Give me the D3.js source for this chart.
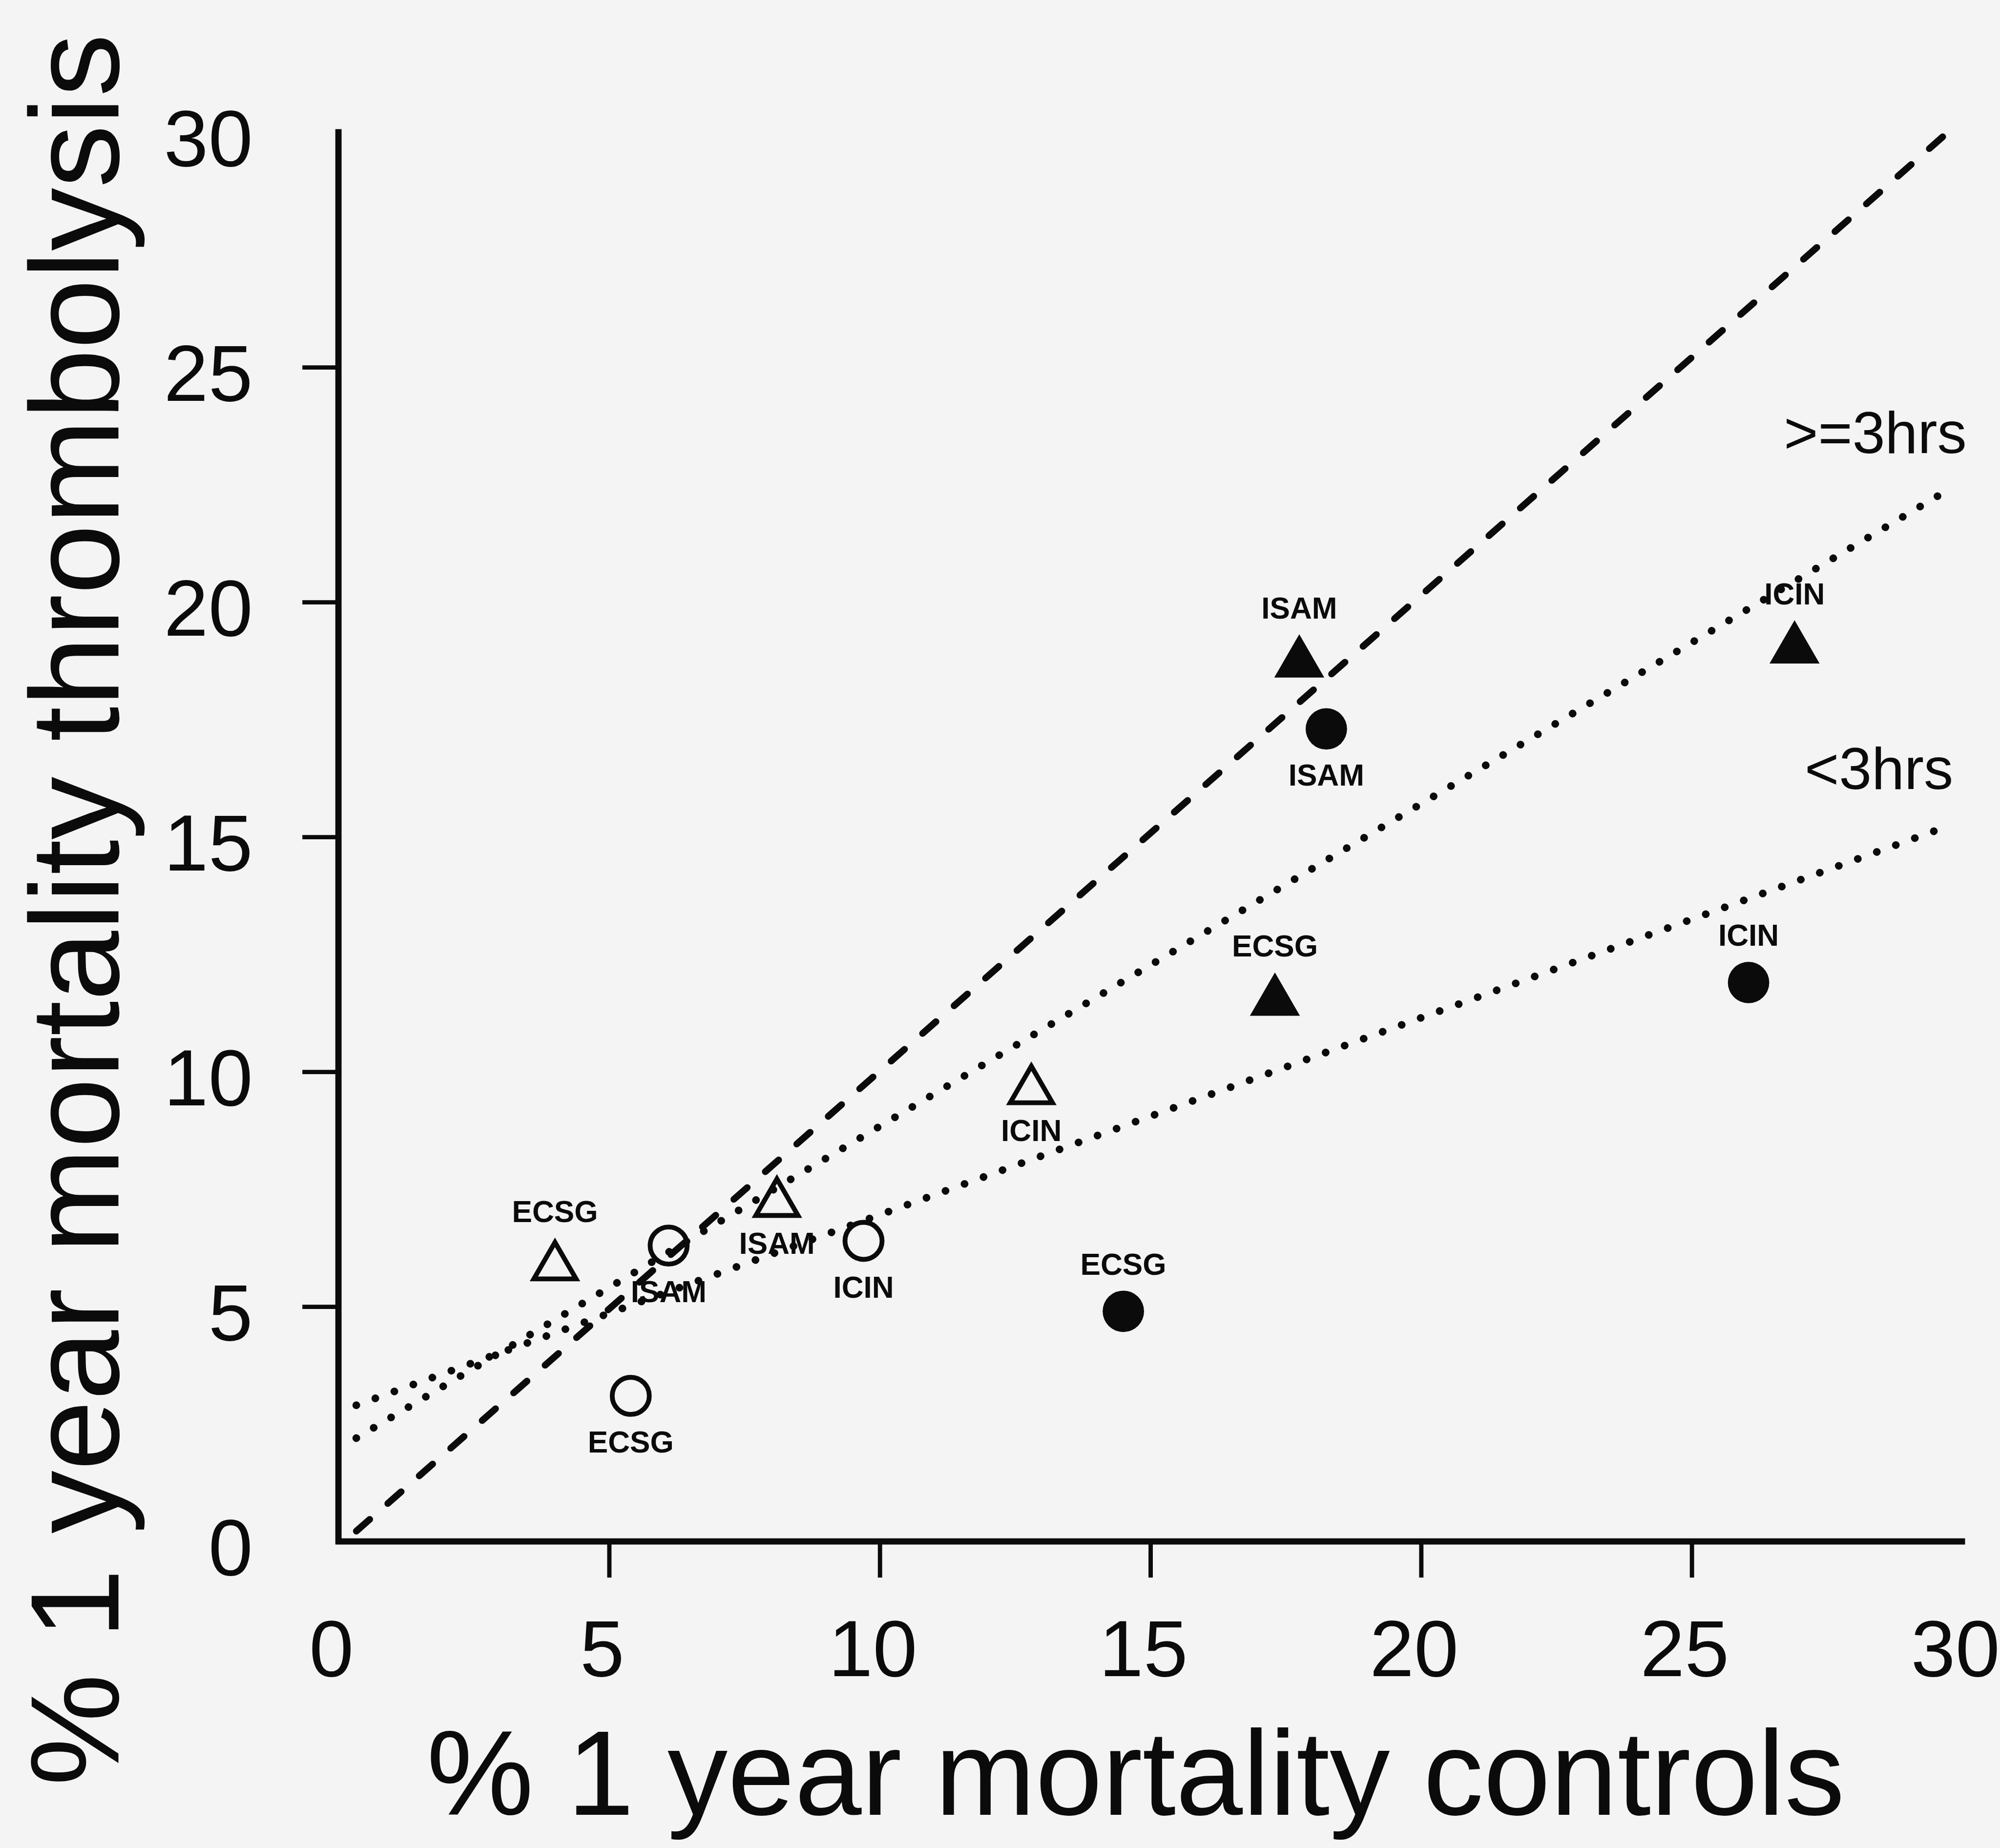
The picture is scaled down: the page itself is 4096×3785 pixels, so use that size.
<!DOCTYPE html>
<html>
<head>
<meta charset="utf-8">
<script src="https://cdn.jsdelivr.net/npm/d3@7"></script>
<style>
html, body { margin: 0; padding: 0; background: #f4f4f4; }
svg { display: block; }
</style>
</head>
<body>
<script>
// ---------------- DATA ----------------
const studies = ["ECSG", "ISAM", "ICIN"];

// open triangles
const openTriControls = [4.0, 8.1, 12.8];
const openTriThromb   = [5.85, 7.2, 9.6];
const openTriLabelSide = ["above", "below", "below"];

// open circles
const openCircControls = [5.4, 6.1, 9.7];
const openCircThromb   = [3.1, 6.3, 6.4];
const openCircLabelSide = ["below", "below", "below"];

// filled triangles
const filledTriControls = [17.3, 17.75, 26.9];
const filledTriThromb   = [11.5, 18.7, 19.0];
const filledTriLabelSide = ["above", "above", "above"];

// filled circles
const filledCircControls = [14.5, 18.25, 26.05];
const filledCircThromb   = [4.9, 17.3, 11.9];
const filledCircLabelSide = ["above", "below", "above"];

// reference (dashed) line and the two dotted lines
const refLineX = [0.33, 29.73];
const refLineY = [0.22, 30.0];
const lateLineX = [0.33, 29.68];   // ">=3hrs"
const lateLineY = [2.2, 22.35];
const earlyLineX = [0.33, 29.66];  // "<3hrs"
const earlyLineY = [2.9, 15.2];
const lineLabels = [">=3hrs", "<3hrs"];

// axes
const xTickValues = [0, 5, 10, 15, 20, 25, 30];
const yTickValues = [0, 5, 10, 15, 20, 25, 30];
const tickMarkValues = [5, 10, 15, 20, 25];
const xTitle = "% 1 year mortality controls";
const yTitle = "% 1 year mortality thrombolysis";

// ---------------- DRAW ----------------
const W = 4096, H = 3785, S = 0.986;
const FONT = "'Liberation Sans', Arial, Helvetica, sans-serif";
const INK = "#0b0b0b";

const svg = d3.select("body").append("svg").attr("width", W).attr("height", H);
svg.append("rect").attr("width", W).attr("height", H).attr("fill", "#f4f4f4");
const g = svg.append("g").attr("transform", `scale(${S})`);

const x = d3.scaleLinear().domain([0, 30]).range([703, 4076]);
const y = d3.scaleLinear().domain([0, 30]).range([3202, 275]);

// X axis ticks + labels
const gx = g.append("g")
  .attr("transform", `translate(0,${y(0)})`)
  .call(d3.axisBottom(x).tickValues(xTickValues).tickSize(75).tickPadding(87).tickFormat(d3.format("d")));
gx.select(".domain").remove();
gx.selectAll(".tick line")
  .attr("stroke", INK).attr("stroke-width", 9)
  .attr("display", d => tickMarkValues.includes(d) ? null : "none");
gx.selectAll(".tick text")
  .attr("fill", INK).attr("font-size", 166).attr("font-family", FONT).attr("dx", -15);

// Y axis ticks + labels
const gy = g.append("g")
  .attr("transform", `translate(${x(0)},0)`)
  .call(d3.axisLeft(y).tickValues(yTickValues).tickSize(75).tickPadding(103).tickFormat(d3.format("d")));
gy.select(".domain").remove();
gy.selectAll(".tick line")
  .attr("stroke", INK).attr("stroke-width", 9)
  .attr("display", d => tickMarkValues.includes(d) ? null : "none");
gy.selectAll(".tick text")
  .attr("fill", INK).attr("font-size", 166).attr("font-family", FONT).attr("dy", "0.42em");

// Axis lines
g.append("line")
  .attr("x1", x(0)).attr("x2", x(0))
  .attr("y1", y(0) + 6).attr("y2", y(30.07))
  .attr("stroke", INK).attr("stroke-width", 13);
g.append("line")
  .attr("x1", x(0) - 6).attr("x2", x(30.05))
  .attr("y1", y(0)).attr("y2", y(0))
  .attr("stroke", INK).attr("stroke-width", 13);

// Lines
const lineGen = d3.line().x(d => x(d[0])).y(d => y(d[1]));
g.append("path")
  .datum(d3.zip(refLineX, refLineY))
  .attr("d", lineGen)
  .attr("fill", "none").attr("stroke", INK).attr("stroke-width", 14)
  .attr("stroke-linecap", "round").attr("stroke-dasharray", "37 50");

const dotted = [d3.zip(lateLineX, lateLineY), d3.zip(earlyLineX, earlyLineY)];
const labelShift = [-145, -135];
dotted.forEach((pts, i) => {
  g.append("path")
    .datum(pts)
    .attr("d", lineGen)
    .attr("fill", "none").attr("stroke", INK).attr("stroke-width", 16)
    .attr("stroke-linecap", "round").attr("stroke-dasharray", "0.01 42");
  const end = pts[pts.length - 1];
  g.append("text")
    .attr("x", x(end[0]) + labelShift[i])
    .attr("y", y(end[1]) - 80)
    .attr("text-anchor", "middle")
    .attr("font-family", FONT).attr("font-size", 122)
    .attr("fill", INK)
    .text(lineLabels[i]);
});

// Markers
const TRI_FILLED = 3 * Math.sqrt(3) * 30 * 30;    // height 90
const TRI_OPEN = 3 * Math.sqrt(3) * 25.3 * 25.3;   // centerline
const CIRC_FILLED = Math.PI * 43 * 43;
const CIRC_OPEN = Math.PI * 38.5 * 38.5;

const series = [
  { type: d3.symbolTriangle, size: TRI_OPEN, filled: false, top: -60, bottom: 30,
    xs: openTriControls, ys: openTriThromb, sides: openTriLabelSide },
  { type: d3.symbolCircle, size: CIRC_OPEN, filled: false, top: -43, bottom: 43,
    xs: openCircControls, ys: openCircThromb, sides: openCircLabelSide },
  { type: d3.symbolTriangle, size: TRI_FILLED, filled: true, top: -60, bottom: 30,
    xs: filledTriControls, ys: filledTriThromb, sides: filledTriLabelSide },
  { type: d3.symbolCircle, size: CIRC_FILLED, filled: true, top: -43, bottom: 43,
    xs: filledCircControls, ys: filledCircThromb, sides: filledCircLabelSide }
];

series.forEach(s => {
  const pts = studies.map((name, i) => ({ name, cx: s.xs[i], cy: s.ys[i], side: s.sides[i] }));
  const grp = g.append("g");
  grp.selectAll("path.mark")
    .data(pts)
    .join("path")
    .attr("class", "mark")
    .attr("transform", d => `translate(${x(d.cx)},${y(d.cy)})`)
    .attr("d", d3.symbol().type(s.type).size(s.size))
    .attr("fill", s.filled ? INK : "none")
    .attr("stroke", s.filled ? "none" : INK)
    .attr("stroke-width", s.filled ? 0 : 10);
  grp.selectAll("text")
    .data(pts)
    .join("text")
    .attr("x", d => x(d.cx))
    .attr("y", d => y(d.cy) + (d.side === "above" ? s.top - 33 : s.bottom + 75))
    .attr("text-anchor", "middle")
    .attr("font-family", FONT)
    .attr("font-size", 63)
    .attr("font-weight", "bold")
    .attr("fill", INK)
    .text(d => d.name);
});

// Axis titles
g.append("text")
  .attr("x", 2359).attr("y", 3770)
  .attr("text-anchor", "middle")
  .attr("font-family", FONT).attr("font-size", 250)
  .attr("fill", INK)
  .text(xTitle);

g.append("text")
  .attr("transform", "translate(246,1890) rotate(-90)")
  .attr("text-anchor", "middle")
  .attr("font-family", FONT).attr("font-size", 262)
  .attr("fill", INK)
  .text(yTitle);
</script>
</body>
</html>
